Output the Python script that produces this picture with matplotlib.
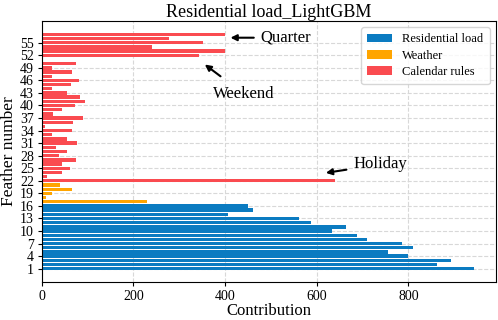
import matplotlib
matplotlib.use("Agg")
import matplotlib.pyplot as plt

plt.rcParams['font.family'] = ['Liberation Serif', 'DejaVu Serif']

# feature importance values
load_features = list(range(1, 17))
load_values = [944, 862, 892, 800, 755, 810, 787, 710, 689, 633, 664, 588, 562, 407, 461, 450]

weather_features = list(range(17, 22))
weather_values = [230, 9, 23, 66, 41]

calendar_features = list(range(22, 58))
calendar_values = [640, 12, 44, 62, 44, 76, 37, 56, 32, 77, 56, 22, 66, 8, 68, 90,
                   25, 45, 72, 95, 83, 56, 23, 65, 82, 22, 66, 22, 75, 4,
                   344, 400, 240, 351, 278, 400]

y_ticks = list(range(1, 57, 3))
x_ticks = [0, 200, 400, 600, 800]

c_load = '#0b7bc1'
c_weather = '#ffa500'
c_cal = '#fa4b50'

fig = plt.figure(figsize=(4.98, 3.2), dpi=100)
ax = fig.add_axes([0.0835, 0.118, 0.9125, 0.817])
ax.set_axisbelow(True)
ax.grid(True, linestyle='--', color='#d8d8d8', linewidth=0.8)

ax.barh(load_features, load_values, height=0.8, color=c_load, label='Residential load')
ax.barh(weather_features, weather_values, height=0.8, color=c_weather, label='Weather')
ax.barh(calendar_features, calendar_values, height=0.8, color=c_cal, label='Calendar rules')

ax.set_yticks(y_ticks)
ax.set_xticks(x_ticks)
ax.tick_params(labelsize=10, length=3, pad=2.5)
ax.set_xlabel('Contribution', fontsize=12, labelpad=0)
ax.set_ylabel('Feather number', fontsize=12.5, labelpad=2)
ax.set_title('Residential load_LightGBM', fontsize=13, pad=3)

arrow = dict(arrowstyle='-|>', color='black', lw=1.5, mutation_scale=9)
ax.annotate('Quarter', xy=(412, 56.2), xytext=(478, 56.2), fontsize=12,
            ha='left', va='center', arrowprops=dict(arrow, shrinkA=3, shrinkB=0))
ax.annotate('Weekend', xy=(356, 49.8), xytext=(441, 42.8), fontsize=12,
            ha='center', va='center', arrowprops=dict(arrow, shrinkA=8, shrinkB=0))
ax.annotate('Holiday', xy=(620, 23.9), xytext=(680, 25.9), fontsize=12,
            ha='left', va='center', arrowprops=dict(arrow, shrinkA=3, shrinkB=0))

ax.legend(loc='upper right', fontsize=9, frameon=True, handlelength=2.0,
          borderpad=0.5, labelspacing=0.35)

fig.savefig('out.png', dpi=100)
